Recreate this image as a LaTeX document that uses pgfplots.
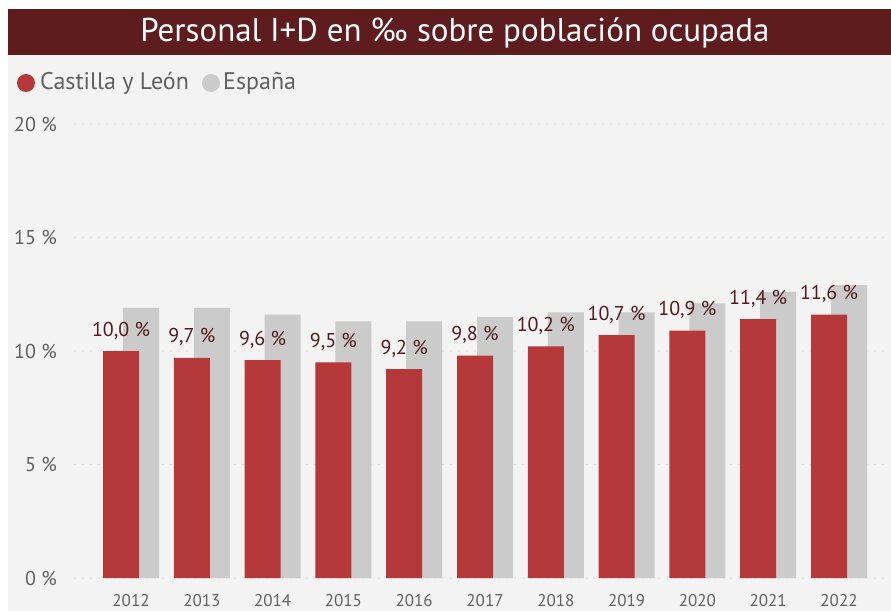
\documentclass[border=0pt]{standalone}
\usepackage{fontspec}
\setmainfont{PT Sans}
\usepackage{pgfplots}
\pgfplotsset{compat=1.18}
\definecolor{titlebg}{RGB}{94,28,30}
\definecolor{panel}{RGB}{243,243,243}
\definecolor{cyl}{RGB}{181,57,59}
\definecolor{esp}{RGB}{203,203,203}
\definecolor{lbl}{RGB}{80,28,28}
\definecolor{txt}{RGB}{96,96,96}
\definecolor{gridc}{RGB}{195,195,195}
\begin{document}
\begin{tikzpicture}[x=1pt,y=1pt]
\useasboundingbox (0,0) rectangle (891,611);
\fill[white] (0,0) rectangle (891,611);
\fill[panel] (8,0) rectangle (891,556);
\fill[titlebg] (8,556) rectangle (891,602);
\node[white, anchor=base, inner sep=0pt, font=\fontsize{33}{40}\selectfont] at (455,569) {Personal I+D en ‰ sobre población ocupada};
% legend
\fill[cyl] (26,528) circle (9);
\node[txt, anchor=base west, inner sep=0pt, font=\fontsize{24}{29}\selectfont] at (40,521) {Castilla y León};
\fill[esp] (211,528) circle (9);
\node[txt, anchor=base west, inner sep=0pt, font=\fontsize{24}{29}\selectfont] at (223,521) {España};
\begin{axis}[
  at={(75pt,33pt)}, anchor=south west,
  scale only axis, width=812pt, height=454pt,
  xmin=-0.791, xmax=10.678, ymin=0, ymax=20,
  ybar, bar width=36pt,
  axis line style={draw=none},
  tick style={draw=none},
  /pgf/number format/assume math mode=true,
  ytick={0,5,10,15,20},
  yticklabel={\pgfmathprintnumber{\tick}~\%},
  yticklabel style={anchor=east, inner sep=0pt, xshift=-18pt, text=txt, font=\fontsize{20}{24}\selectfont},
  xtick={0,...,10},
  xticklabels={2012,2013,2014,2015,2016,2017,2018,2019,2020,2021,2022},
  xticklabel style={anchor=base, inner sep=0pt, yshift=-24pt, text=txt, font=\fontsize{17}{20}\selectfont},
  ymajorgrids,
  grid style={line width=1.3pt, dash pattern=on 0pt off 8pt, line cap=round, color=gridc},
  clip=false,
]
\addplot[fill=esp, draw=none, bar shift=10pt] coordinates {(0,11.9) (1,11.9) (2,11.6) (3,11.3) (4,11.3) (5,11.5) (6,11.7) (7,11.7) (8,12.1) (9,12.6) (10,12.9)};
\addplot[fill=cyl, draw=none, bar shift=-10pt,
  nodes near coords={\pgfmathprintnumber[fixed,fixed zerofill,precision=1,use comma]{\pgfplotspointmeta}\ \%},
  nodes near coords style={anchor=base, inner sep=0pt, yshift=15pt, text=lbl, font=\fontsize{20}{24}\selectfont}]
  coordinates {(0,10.0) (1,9.7) (2,9.6) (3,9.5) (4,9.2) (5,9.8) (6,10.2) (7,10.7) (8,10.9) (9,11.4) (10,11.6)};
\end{axis}
\end{tikzpicture}
\end{document}
